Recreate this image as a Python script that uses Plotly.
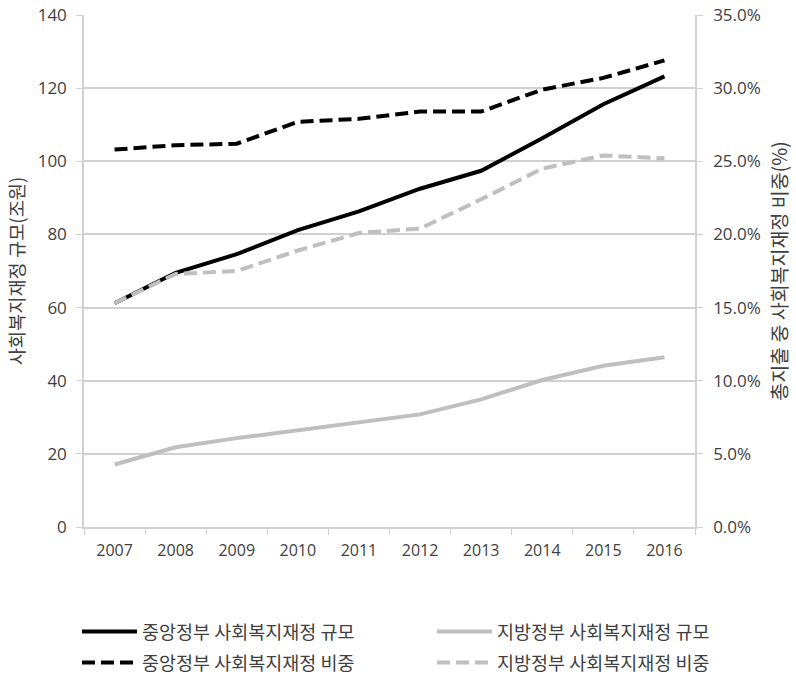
import plotly.graph_objects as go

# 연도별 사회복지재정 규모(조원)와 총지출 대비 비중
years = ["2007", "2008", "2009", "2010", "2011", "2012", "2013", "2014", "2015", "2016"]
central_size = [61.2, 69.5, 74.6, 81.2, 86.3, 92.5, 97.4, 106.3, 115.6, 123.2]
local_size = [17.1, 21.8, 24.3, 26.5, 28.5, 30.8, 34.9, 40.2, 44.1, 46.4]
central_share = [0.258, 0.261, 0.262, 0.277, 0.279, 0.284, 0.284, 0.299, 0.307, 0.319]
local_share = [0.153, 0.173, 0.175, 0.189, 0.201, 0.204, 0.224, 0.245, 0.254, 0.252]

names = [
    "중앙정부 사회복지재정 규모",
    "지방정부 사회복지재정 규모",
    "중앙정부 사회복지재정 비중",
    "지방정부 사회복지재정 비중",
]

FONT = "Noto Sans CJK KR"
NUM_FONT = "Open Sans"
TEXT = "#404040"
GRID = "#d0d0d0"
BLACK = "#000000"
GRAY = "#bfbfbf"
DASH = "13px,6px"

fig = go.Figure()
fig.add_trace(go.Scatter(x=years, y=central_size, name=names[0], mode="lines",
                         legend="legend", line=dict(color=BLACK, width=4)))
fig.add_trace(go.Scatter(x=years, y=local_size, name=names[1], mode="lines",
                         legend="legend2", line=dict(color=GRAY, width=4)))
fig.add_trace(go.Scatter(x=years, y=central_share, name=names[2], mode="lines", yaxis="y2",
                         legend="legend3", line=dict(color=BLACK, width=4, dash=DASH)))
fig.add_trace(go.Scatter(x=years, y=local_share, name=names[3], mode="lines", yaxis="y2",
                         legend="legend4", line=dict(color=GRAY, width=4, dash=DASH)))

# 범례: 2열 × 2행 배치
col_x = [-0.0115, 0.5696]
row_y = [-0.2051, -0.2656]


def legend_at(cx, ry):
    return dict(
        orientation="v", x=cx, y=ry, xanchor="left", yanchor="middle",
        itemwidth=55, font=dict(size=18.5, color=TEXT), bgcolor="rgba(0,0,0,0)",
    )


fig.update_layout(
    width=796, height=677,
    margin=dict(l=84, r=101, t=15, b=150, autoexpand=False),
    paper_bgcolor="white", plot_bgcolor="white",
    font=dict(family=FONT, size=15, color=TEXT),
    xaxis=dict(
        type="category", range=[-0.5, 9.5], tickson="boundaries", ticks="outside",
        ticklen=6, tickcolor=GRID, showline=True, linecolor=GRID, linewidth=1.5,
        showgrid=False, tickfont=dict(family=NUM_FONT, size=16), ticklabelstandoff=8,
    ),
    yaxis=dict(
        range=[0, 140], dtick=20, ticks="outside", ticklen=6, tickcolor=GRID,
        showgrid=True, gridcolor=GRID, gridwidth=1.5, showline=True,
        linecolor=GRID, linewidth=1.5, zeroline=False, ticklabelstandoff=6,
        tickfont=dict(family=NUM_FONT, size=17),
        title=dict(text="사회복지재정 규모(조원)", font=dict(size=18.7), standoff=8),
    ),
    yaxis2=dict(
        range=[0, 0.35], dtick=0.05, tickformat=".1%", overlaying="y", side="right",
        ticks="outside", ticklen=6, tickcolor=GRID, showgrid=False, showline=True,
        linecolor=GRID, linewidth=1.5, zeroline=False, ticklabelstandoff=7,
        tickfont=dict(family=NUM_FONT, size=17),
        title=dict(text="총지출 중 사회복지재정 비중(%)", font=dict(size=19.5), standoff=14),
    ),
    legend=legend_at(col_x[0], row_y[0]),
    legend2=legend_at(col_x[1], row_y[0]),
    legend3=legend_at(col_x[0], row_y[1]),
    legend4=legend_at(col_x[1], row_y[1]),
    showlegend=True,
)

fig.write_html("out.html")
